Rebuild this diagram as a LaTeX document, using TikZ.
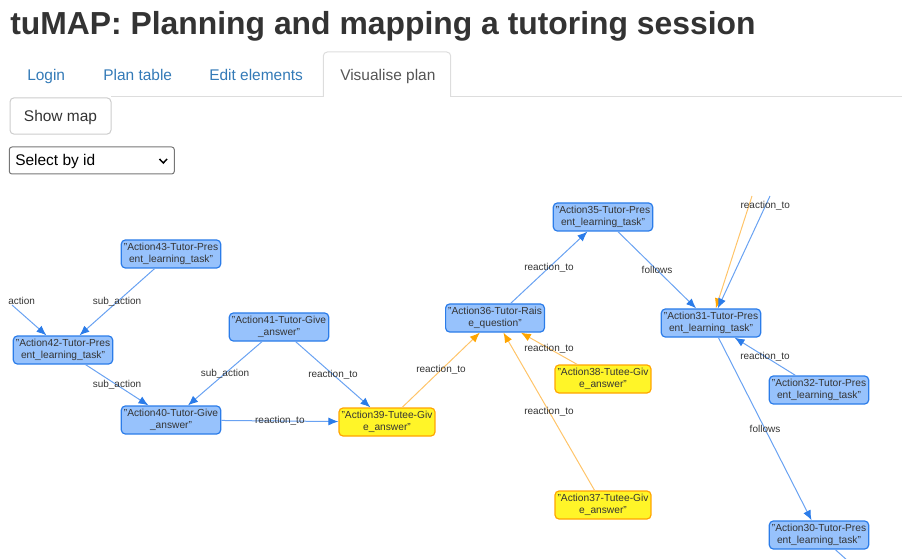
\documentclass[tikz,border=0pt]{standalone}
\usepackage{fontspec}
\setmainfont{Liberation Sans}
\usepackage{xcolor}
\usepackage{tikz}
\usetikzlibrary{positioning,arrows.meta}
\definecolor{tumapblue}{RGB}{43, 124, 233}
\definecolor{tumaplightblue}{RGB}{151, 194, 252}
\definecolor{tumapedgeblue}{RGB}{105, 162, 242}
\definecolor{tumaporange}{RGB}{255, 165, 0}
\definecolor{tumapedgeorange}{RGB}{255, 196, 105}
\definecolor{tumapyellow}{RGB}{255, 245, 40}
\definecolor{tumaptext}{RGB}{52, 52, 52}
\definecolor{tumaptitle}{RGB}{51, 51, 51}
\definecolor{tumaplink}{RGB}{51, 122, 183}
\definecolor{tumaptab}{RGB}{85, 85, 85}
\definecolor{tumapline}{RGB}{221, 221, 221}
\definecolor{tumapbtn}{RGB}{204, 204, 204}
\definecolor{tumapselect}{RGB}{118, 118, 118}
\newcommand{\titlefont}{\fontsize{23.9}{28}\selectfont\bfseries}
\newcommand{\tabfont}{\fontsize{11.6}{14}\selectfont}
\newcommand{\nodefont}{\fontsize{7.65}{9.4}\selectfont}
\newcommand{\edgefont}{\fontsize{7.5}{9}\selectfont}

\begin{document}
\begin{tikzpicture}[
    x=0.75pt, y=-0.75pt,
    tutor/.style={rectangle, rounded corners=3pt, draw=tumapblue, fill=tumaplightblue, line width=0.9pt,
                  minimum height=21pt, inner xsep=1.9pt, inner ysep=1pt, font=\nodefont, text=tumaptext, align=center},
    tutee/.style={tutor, draw=tumaporange, fill=tumapyellow},
    link/.style={-{Latex[length=7.5pt, width=6pt, color=tumapblue]}, line width=0.75pt, draw=tumapedgeblue},
    orangelink/.style={-{Latex[length=7.5pt, width=6pt, color=tumaporange]}, line width=0.75pt, draw=tumapedgeorange},
    lbl/.style={font=\edgefont, text=tumaptext, inner sep=1pt},
    tab/.style={anchor=base west, font=\tabfont, text=tumaplink, inner sep=0pt},
    button/.style={rectangle, rounded corners=3pt, draw=tumapbtn, line width=0.75pt, font=\tabfont, text=tumaptitle,
                   minimum width=75.75pt, minimum height=27.2pt, text depth=0pt}
]
    \useasboundingbox (0,0) rectangle (902,559);

    % page header
    \node[anchor=base west, font=\titlefont, text=tumaptitle, inner sep=0pt] (title) at (10,35)
        {tuMAP: Planning and mapping a tutoring session};
    \node[tab] (login)    at (27,81)  {Login};
    \node[tab] (plantab)  at (103,81) {Plan table};
    \node[tab] (edittab)  at (209,81) {Edit elements};
    \node[tab, text=tumaptab] (vistab) at (340,81) {Visualise plan};
    \draw[tumapline, line width=0.75pt] (111,97) -- (323.3,97);
    \draw[tumapline, line width=0.75pt] (450.7,97) -- (902,97);
    \draw[tumapline, line width=0.75pt, rounded corners=3pt] (323.3,97) -- (323.3,52) -- (450.7,52) -- (450.7,97);

    \node[button] (showmap) at (60.5,116) {Show map};
    \node[rectangle, rounded corners=2pt, draw=tumapselect, line width=0.75pt,
          minimum width=123.75pt, minimum height=20.25pt] (selectbox) at (91.8,160.5) {};
    \node[anchor=base west, font=\tabfont, text=black, inner sep=0pt] (selecttxt) at (15,165.5) {Select by id};
    \draw[black, line width=1.1pt] (159.5,159) -- (163.3,163) -- (167,159);

    % tutor / tutee actions
    \node[tutor] (act43) at (171,254) {"Action43-Tutor-Pres\\ent\_learning\_task"};
    \node[tutor] (act42) at (63,350)  {"Action42-Tutor-Pres\\ent\_learning\_task"};
    \node[tutor] (act41) at (279,327) {"Action41-Tutor-Give\\\_answer"};
    \node[tutor] (act40) at (171,420) {"Action40-Tutor-Give\\\_answer"};
    \node[tutee] (act39) at (387,422) {"Action39-Tutee-Giv\\e\_answer"};
    \node[tutor] (act36) at (495,318) {"Action36-Tutor-Rais\\e\_question"};
    \node[tutor] (act35) at (603,217) {"Action35-Tutor-Pres\\ent\_learning\_task"};
    \node[tutee] (act38) at (603,379) {"Action38-Tutee-Giv\\e\_answer"};
    \node[tutee] (act37) at (603,505) {"Action37-Tutee-Giv\\e\_answer"};
    \node[tutor] (act31) at (711,323) {"Action31-Tutor-Pres\\ent\_learning\_task"};
    \node[tutor] (act32) at (819,390) {"Action32-Tutor-Pres\\ent\_learning\_task"};
    \node[tutor] (act30) at (819,535) {"Action30-Tutor-Pres\\ent\_learning\_task"};

    % edges leaving the visible area
    \coordinate (offleft)   at (12,305);
    \coordinate (offorange) at (752,196);
    \coordinate (offblue)   at (770,196);
    \coordinate (offdown)   at (848,561);

    \draw[link] (offleft) -- (act42);
    \node[lbl, anchor=west, inner sep=0pt] (cutlabel) at (8,301) {action};
    \draw[link] (act43) -- node[lbl] {sub\_action} (act42);
    \draw[link] (act42) -- node[lbl] {sub\_action} (act40);
    \draw[link] (act41) -- node[lbl] {sub\_action} (act40);
    \draw[link] (act41) -- node[lbl] {reaction\_to} (act39);
    \draw[link] (act40) -- node[lbl] {reaction\_to} (act39);
    \draw[orangelink] (act39) -- node[lbl] {reaction\_to} (act36);
    \draw[link] (act36) -- node[lbl] {reaction\_to} (act35);
    \draw[link] (act35) -- node[lbl] {follows} (act31);
    \draw[orangelink] (act38) -- node[lbl] {reaction\_to} (act36);
    \draw[orangelink] (act37) -- node[lbl] {reaction\_to} (act36);
    \draw[orangelink] (offorange) -- (act31);
    \draw[link] (offblue) -- node[lbl, pos=0.09] {reaction\_to} (act31);
    \draw[link] (act32) -- node[lbl] {reaction\_to} (act31);
    \draw[link] (act31) -- node[lbl] {follows} (act30);
    \draw[line width=0.75pt, draw=tumapedgeblue] (act30) -- (offdown);
\end{tikzpicture}
\end{document}
